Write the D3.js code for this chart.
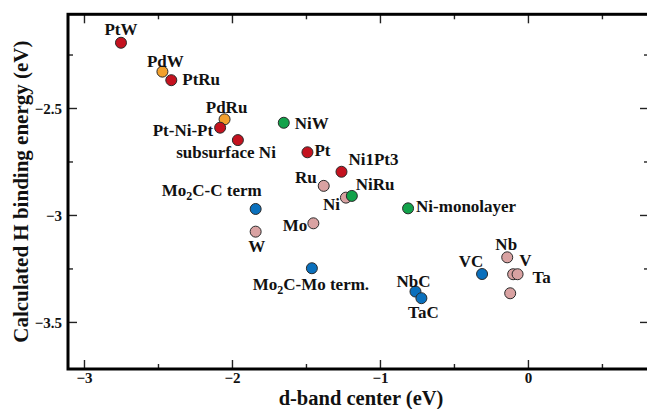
<!DOCTYPE html>
<html>
<head>
<meta charset="utf-8">
<script src="https://cdn.jsdelivr.net/npm/d3@7"></script>
<style>
  html, body { margin: 0; padding: 0; background: #fff; }
  svg { display: block; }
  text { font-family: "Liberation Serif", "Times New Roman", serif; font-weight: bold; fill: #111; }
</style>
</head>
<body>
<svg id="chart" width="647" height="409"></svg>
<script>
// Surfaces: d-band center (eV) vs. calculated H binding energy (eV)
const names = ["PtW", "PdW", "PtRu", "PdRu", "Pt-Ni-Pt", "subsurface Ni", "NiW", "Pt",
  "Ni1Pt3", "Ru", "NiRu", "Ni", "Ni-monolayer", "Mo2C-C term", "W", "Mo",
  "Mo2C-Mo term.", "NbC", "TaC", "VC", "Nb", "V", "Ta", ""];
const dBandCenter = [-2.75, -2.47, -2.41, -2.05, -2.08, -1.96, -1.65, -1.49,
  -1.26, -1.38, -1.19, -1.23, -0.81, -1.84, -1.84, -1.45,
  -1.46, -0.76, -0.72, -0.31, -0.14, -0.10, -0.07, -0.12];
const hBindingEnergy = [-2.195, -2.33, -2.37, -2.553, -2.592, -2.65, -2.569, -2.707,
  -2.798, -2.864, -2.911, -2.919, -2.969, -2.972, -3.078, -3.039,
  -3.249, -3.358, -3.389, -3.276, -3.198, -3.277, -3.277, -3.366];
const groups = ["Pt", "Pd", "Pt", "Pd", "Pt", "Pt", "Ni", "Pt",
  "Pt", "metal", "Ni", "metal", "Ni", "carbide", "metal", "metal",
  "carbide", "carbide", "carbide", "carbide", "metal", "metal", "metal", "metal"];

const xTicks = [-3, -2, -1, 0];
const xMinorTicks = [-2.5, -1.5, -0.5, 0.5];
const yTicks = [-2.5, -3, -3.5];
const yMinorTicks = [-2.25, -2.75, -3.25];

const groupColors = {
  Pt: "#c4121f", Pd: "#f2a02c", Ni: "#12a24a", carbide: "#0a70bd", metal: "#d9a2a2"
};

// label placement: [text-anchor, dx, dy] relative to the marker centre
const labelPlacement = {
  "PtW": ["middle", 0, -8], "PdW": ["middle", 3, -5], "PtRu": ["start", 11, 5],
  "PdRu": ["middle", 2, -6], "Pt-Ni-Pt": ["end", -7, 8], "subsurface Ni": ["end", 38, 18],
  "NiW": ["start", 11, 6], "Pt": ["start", 7, 4], "Ni1Pt3": ["start", 7, -7],
  "Ru": ["end", -7, -3], "NiRu": ["start", 4, -6], "Ni": ["end", -6, 12],
  "Ni-monolayer": ["start", 8, 4], "Mo2C-C term": ["end", 6, -13], "W": ["middle", 1, 20],
  "Mo": ["end", -6, 8], "Mo2C-Mo term.": ["middle", -1, 22], "NbC": ["middle", -2, -5],
  "TaC": ["middle", 2, 20], "VC": ["middle", -11, -7], "Nb": ["middle", -1, -7],
  "V": ["start", 6, -8], "Ta": ["start", 15, 9]
};

const points = names.map((n, i) => ({
  name: n, x: dBandCenter[i], y: hBindingEnergy[i], group: groups[i]
}));

const svg = d3.select("#chart");
const plotLeft = 68, plotRight = 649, plotTop = 14.3, plotBottom = 369;

const x = d3.scaleLinear().domain([-3.108, 0.818]).range([plotLeft, plotRight]);
const y = d3.scaleLinear().domain([-3.72, -2.062]).range([plotBottom, plotTop]);

const majorLen = 9, minorLen = 5;

// inward ticks on all four sides
function tickAxis(axisGen, transform) {
  const g = svg.append("g").attr("transform", transform).call(axisGen);
  g.select(".domain").remove();
  g.selectAll(".tick line").attr("stroke", "#222").attr("stroke-width", 1.4);
  return g;
}

// bottom
const xb = tickAxis(d3.axisBottom(x).tickValues(xTicks).tickSizeInner(-majorLen).tickSizeOuter(0).tickPadding(0).tickFormat(d3.format("d")),
  `translate(0,${plotBottom})`);
xb.selectAll(".tick text").attr("y", 14).attr("dy", 0).attr("font-size", 15)
  .style("font-family", "'Liberation Serif', serif").style("font-weight", "bold").attr("fill", "#111");
tickAxis(d3.axisBottom(x).tickValues(xMinorTicks).tickSizeInner(-minorLen).tickSizeOuter(0).tickFormat(""),
  `translate(0,${plotBottom})`);
// top
tickAxis(d3.axisTop(x).tickValues(xTicks).tickSizeInner(-majorLen).tickSizeOuter(0).tickFormat(""),
  `translate(0,${plotTop})`);
tickAxis(d3.axisTop(x).tickValues(xMinorTicks).tickSizeInner(-minorLen).tickSizeOuter(0).tickFormat(""),
  `translate(0,${plotTop})`);
// left
const yl = tickAxis(d3.axisLeft(y).tickValues(yTicks).tickSizeInner(-majorLen).tickSizeOuter(0).tickPadding(6).tickFormat(d3.format("")),
  `translate(${plotLeft},0)`);
yl.selectAll(".tick text").attr("font-size", 15).attr("dy", "0.34em").attr("x", -6)
  .style("font-family", "'Liberation Serif', serif").style("font-weight", "bold").attr("fill", "#111");
tickAxis(d3.axisLeft(y).tickValues(yMinorTicks).tickSizeInner(-minorLen).tickSizeOuter(0).tickFormat(""),
  `translate(${plotLeft},0)`);
// right
tickAxis(d3.axisRight(y).tickValues(yTicks).tickSizeInner(-majorLen).tickSizeOuter(0).tickFormat(""),
  `translate(${plotRight},0)`);
tickAxis(d3.axisRight(y).tickValues(yMinorTicks).tickSizeInner(-minorLen).tickSizeOuter(0).tickFormat(""),
  `translate(${plotRight},0)`);

// frame
svg.append("rect")
  .attr("x", plotLeft).attr("y", plotTop)
  .attr("width", plotRight - plotLeft).attr("height", plotBottom - plotTop)
  .attr("fill", "none").attr("stroke", "#000").attr("stroke-width", 3);

// axis titles
svg.append("text")
  .attr("x", 361).attr("y", 404.5)
  .attr("text-anchor", "middle").attr("font-size", 20.5)
  .text("d-band center (eV)");
svg.append("text")
  .attr("transform", `translate(28,${(plotTop + plotBottom) / 2}) rotate(-90)`)
  .attr("text-anchor", "middle").attr("font-size", 21)
  .text("Calculated H binding energy (eV)");

// draw order: green NiRu sits beneath pink Ni
const drawOrder = points.slice();
const iNiRu = drawOrder.findIndex(p => p.name === "NiRu");
const iNi = drawOrder.findIndex(p => p.name === "Ni");
[drawOrder[iNiRu], drawOrder[iNi]] = [drawOrder[iNi], drawOrder[iNiRu]];

svg.append("g").selectAll("circle")
  .data(drawOrder)
  .join("circle")
  .attr("cx", d => x(d.x))
  .attr("cy", d => y(d.y))
  .attr("r", 5.5)
  .attr("fill", d => groupColors[d.group])
  .attr("stroke", "#2a2a2a")
  .attr("stroke-width", 1);

// point labels, with subscripted digits in formulas like Mo2C
const labels = svg.append("g").selectAll("text")
  .data(points.filter(p => p.name && labelPlacement[p.name]))
  .join("text")
  .attr("x", d => x(d.x) + labelPlacement[d.name][1])
  .attr("y", d => y(d.y) + labelPlacement[d.name][2])
  .attr("text-anchor", d => labelPlacement[d.name][0])
  .attr("font-size", 17);

labels.each(function(d) {
  const t = d3.select(this);
  const m = d.name.match(/^(Mo)(2)(C.*)$/);
  if (m) {
    t.append("tspan").text(m[1]);
    t.append("tspan").attr("font-size", 12).attr("dy", 4).text(m[2]);
    t.append("tspan").attr("dy", -4).text(m[3]);
  } else {
    t.text(d.name);
  }
});
</script>
</body>
</html>
